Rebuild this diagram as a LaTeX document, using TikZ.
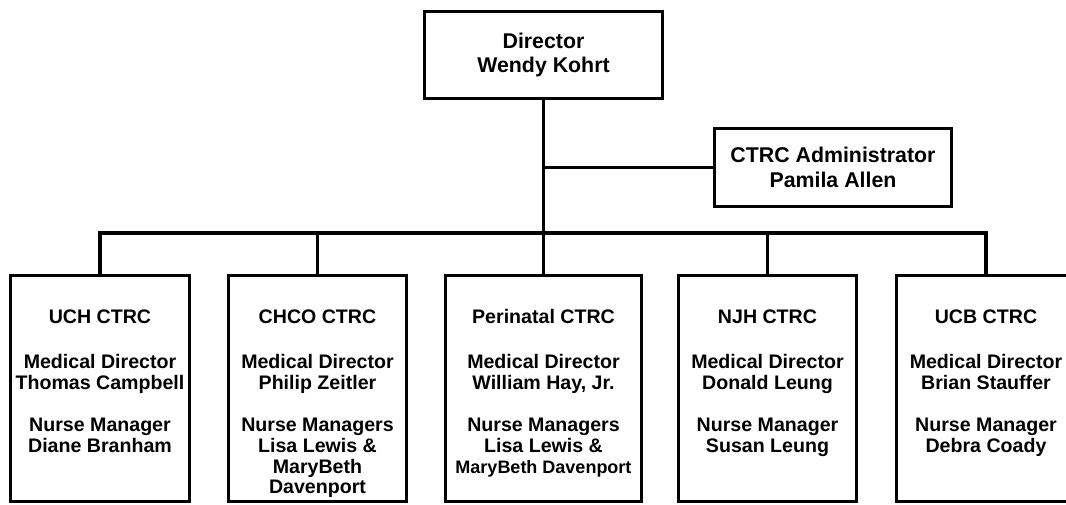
\documentclass[tikz,border=0pt]{standalone}
\usepackage{fontspec}
\setmainfont{Liberation Sans}
\usepackage{tikz}

\tikzset{
  topbox/.style={draw, line width=2.4pt, align=center, inner sep=0pt,
    font=\bfseries\fontsize{16}{18.5}\selectfont},
  unitbox/.style={draw, line width=2.4pt, inner sep=0pt, anchor=north,
    minimum width=134pt, minimum height=170pt,
    font=\bfseries\fontsize{14.7}{15.5}\selectfont},
  link/.style={line width=2.6pt}
}
\newcommand{\unittext}[2][130pt]{\begin{minipage}[c][170pt][t]{#1}\centering
  \vspace*{24.4pt}\rule{0pt}{12pt}#2\end{minipage}}

\begin{document}
\begin{tikzpicture}[x=0.75pt,y=-0.75pt]
  \useasboundingbox (0,0) rectangle (1066,504); % page
  \node[topbox, minimum width=179pt, minimum height=65pt] (dir) at (543.5,55)
    {Director\\Wendy Kohrt};
  \node[topbox, minimum width=177.6pt, minimum height=58.4pt] (admin) at (833,167.5)
    {CTRC Administrator\\Pamila Allen};
  \coordinate (bus) at (0,233); % level of the bus line
  % the five units
  \node[unitbox] (uch) at (100,273.6) {\unittext{UCH CTRC\\[18pt]
    Medical Director\\Thomas Campbell\\[16.5pt]Nurse Manager\\Diane Branham}};
  \node[unitbox] (chco) at (317.5,273.6) {\unittext{CHCO CTRC\\[18pt]
    Medical Director\\Philip Zeitler\\[16.5pt]Nurse Managers\\Lisa Lewis \&\\MaryBeth\\Davenport}};
  \node[unitbox, minimum width=147pt] (peri) at (543.5,273.6) {\unittext[145pt]{Perinatal CTRC\\[18pt]
    Medical Director\\William Hay, Jr.\\[16.5pt]Nurse Managers\\Lisa Lewis \&\\
    {\fontsize{13.5}{15.5}\selectfont MaryBeth Davenport}}};
  \node[unitbox] (njh) at (767.5,273.6) {\unittext{NJH CTRC\\[18pt]
    Medical Director\\Donald Leung\\[16.5pt]Nurse Manager\\Susan Leung}};
  \node[unitbox] (ucb) at (986,273.6) {\unittext{UCB CTRC\\[18pt]
    Medical Director\\Brian Stauffer\\[16.5pt]Nurse Manager\\Debra Coady}};
  % lines
  \draw[link] (dir.south) -- (peri.north);
  \draw[link] (admin.west) -- (admin.west -| dir.south);
  \draw[link] (uch.north) -- (uch.north |- bus) -- (ucb.north |- bus) -- (ucb.north);
  \foreach \u in {chco,njh}
    \draw[link] (\u.north) -- (\u.north |- bus);
\end{tikzpicture}
\end{document}
